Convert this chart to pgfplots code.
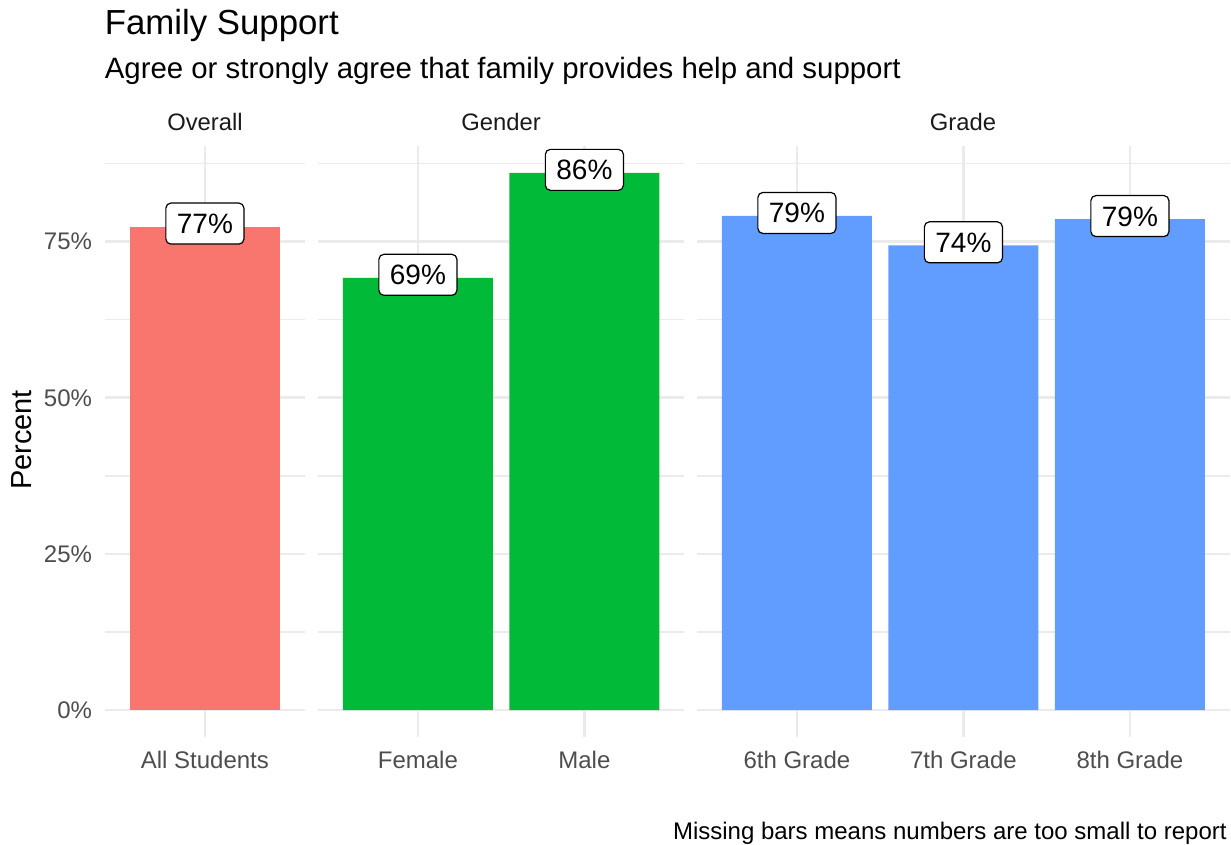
\documentclass[border=0pt]{standalone}
\usepackage{pgfplots}
\pgfplotsset{compat=1.18}
\usepackage{fontspec}
\setmainfont{Liberation Sans}
\definecolor{c1}{HTML}{F8766D}
\definecolor{c2}{HTML}{00BA38}
\definecolor{c3}{HTML}{619CFF}
\definecolor{gridc}{HTML}{EBEBEB}
\definecolor{tickc}{HTML}{4D4D4D}
\definecolor{stripc}{HTML}{1A1A1A}
\pgfplotsset{
  panel/.style={
    scale only axis, height=295.5pt, anchor=south west,
    ymin=-4.3, ymax=90.3, xmin=-0.6,
    axis line style={draw=none},
    major tick length=0pt, minor tick length=0pt,
    ytick={0,25,50,75}, minor ytick={12.5,37.5,62.5,87.5},
    xmajorgrids, ymajorgrids, yminorgrids,
    major grid style={gridc, line width=1.35pt},
    minor grid style={gridc, line width=0.68pt},
    /pgf/number format/assume math mode=true,
    xticklabel style={font=\fontsize{12}{14}\selectfont, text=tickc, inner sep=0pt, anchor=north, text height=8.6pt, yshift=-7pt},
    yticklabel style={font=\fontsize{12}{14}\selectfont, text=tickc, inner sep=0pt, anchor=east, xshift=-6.3pt},
    ybar, bar width=0.9, bar shift=0pt,
    nodes near coords={\pgfmathprintnumber[fixed,precision=0]{\pgfplotspointmeta}\%},
    every node near coord/.append style={anchor=center, draw=black, fill=white, rounded corners=2.5pt, line width=0.6pt, font=\fontsize{14}{16}\selectfont, text=black, inner xsep=5.5pt, inner ysep=0pt, text height=10pt, text depth=0pt, minimum height=20.5pt, yshift=1.5pt},
  }
}
\begin{document}
\begin{tikzpicture}
\useasboundingbox (0,0) rectangle (615.5pt,422.5pt);
% Panel 1: Overall
\begin{axis}[panel, at={(52.5pt,54pt)}, width=99.9pt, xmax=0.6,
  xtick={0}, xticklabels={All Students},
  yticklabels={0\%,25\%,50\%,75\%}]
\addplot[fill=c1, draw=none] coordinates {(0,77.4)};
\end{axis}
% Panel 2: Gender
\begin{axis}[panel, at={(159pt,54pt)}, width=183.15pt, xmax=1.6,
  xtick={0,1}, xticklabels={Female,Male},
  yticklabels={}]
\addplot[fill=c2, draw=none] coordinates {(0,69.2) (1,86.0)};
\end{axis}
% Panel 3: Grade
\begin{axis}[panel, at={(348.5pt,54pt)}, width=266.4pt, xmax=2.6,
  xtick={0,1,2}, xticklabels={6th Grade,7th Grade,8th Grade},
  yticklabels={}]
\addplot[fill=c3, draw=none] coordinates {(0,79.1) (1,74.4) (2,78.6)};
\end{axis}
% strip labels
\node[anchor=base, text=stripc, font=\fontsize{11.9}{14}\selectfont, inner sep=0pt] at (102.5pt,357pt) {Overall};
\node[anchor=base, text=stripc, font=\fontsize{11.9}{14}\selectfont, inner sep=0pt] at (250.5pt,357pt) {Gender};
\node[anchor=base, text=stripc, font=\fontsize{11.9}{14}\selectfont, inner sep=0pt] at (481.5pt,357pt) {Grade};
% titles
\node[anchor=base west, font=\fontsize{17.4}{20}\selectfont, inner sep=0pt] at (52.2pt,405pt) {Family Support};
\node[anchor=base west, font=\fontsize{14.7}{17}\selectfont, inner sep=0pt] at (52.2pt,383pt) {Agree or strongly agree that family provides help and support};
% y axis title
\node[rotate=90, anchor=base, font=\fontsize{14.5}{17}\selectfont, inner sep=0pt] at (15.5pt,202.5pt) {Percent};
% caption
\node[anchor=base east, font=\fontsize{12}{14}\selectfont, inner sep=0pt] at (613.5pt,2.5pt) {Missing bars means numbers are too small to report};
\end{tikzpicture}
\end{document}
